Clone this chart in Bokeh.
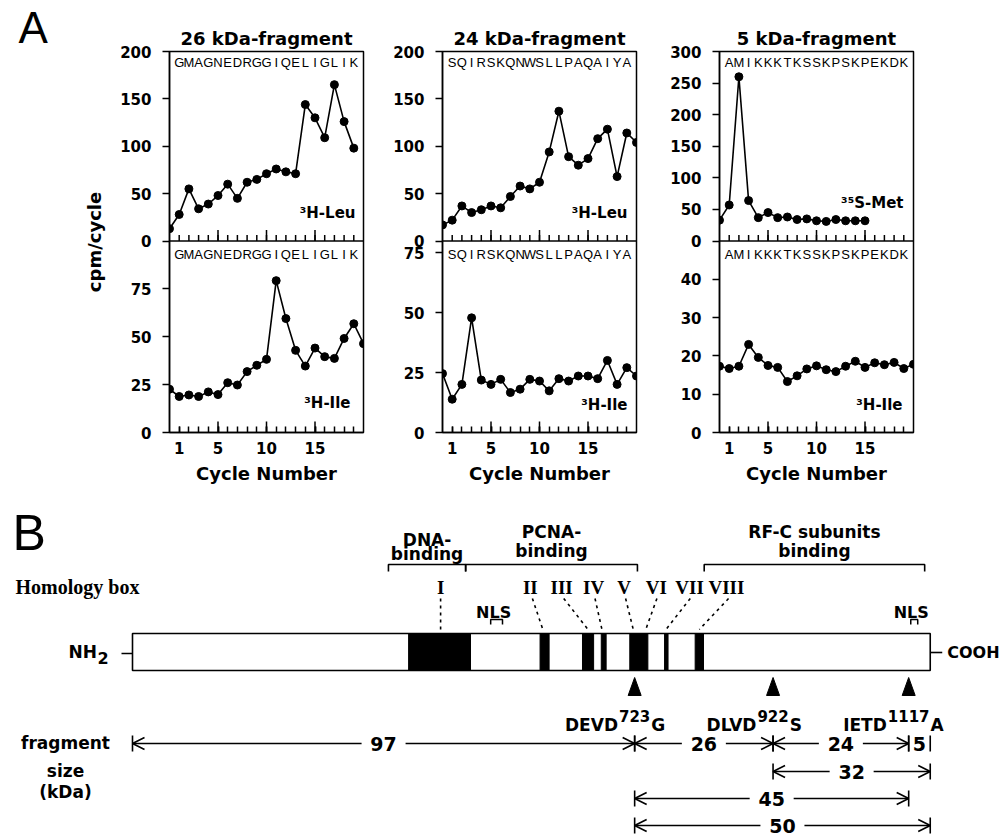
import math
from bokeh.plotting import figure
from bokeh.models import (Range1d, LinearAxis, FixedTicker, ColumnDataSource, Arrow, OpenHead,
                          Span)
from bokeh.layouts import row, column
from bokeh.core.properties import value
from bokeh.embed import file_html
from bokeh.resources import INLINE

# ---------------- Panel A data ----------------
panel_titles = ["26 kDa-fragment", "24 kDa-fragment", "5 kDa-fragment"]
sequences = ["GMAGNEDRGGIQELIGLIK", "SQIRSKQNWSLLPAQAIYA", "AMIKKKTKSSKPSKPEKDK"]
top_labels = ["³H-Leu", "³H-Leu", "³⁵S-Met"]
bottom_labels = ["³H-Ile", "³H-Ile", "³H-Ile"]

leu_26 = [13, 28, 55, 34, 39, 48, 60, 45, 62, 65, 71, 76, 73, 71, 144, 130, 109, 165, 126, 98]
ile_26 = [22.6, 18.8, 19.6, 18.8, 21.2, 19.8, 26.0, 24.8, 31.8, 35.1, 38.2, 79.3, 59.5,
          42.9, 34.7, 44.1, 39.6, 38.7, 49.1, 56.8, 46.4]
leu_24 = [17, 22, 37, 30, 33, 37, 35, 47, 58, 55, 62, 94, 137, 89, 80, 87, 108, 118, 68, 114, 104]
ile_24 = [24.6, 13.9, 20.1, 47.9, 21.9, 20.1, 22.2, 16.7, 18.1, 22.2, 21.5, 17.4, 22.5,
          21.5, 23.6, 23.6, 22.5, 30.1, 20.1, 27.1, 23.6]
met_5 = [33, 57, 260, 64, 37, 45, 37, 38, 34, 35, 32, 31, 34, 32, 32, 32]
ile_5 = [17.3, 16.7, 17.3, 23.0, 19.6, 17.5, 17.0, 13.3, 14.8, 16.6, 17.4, 16.4, 15.9,
         17.3, 18.6, 17.0, 18.2, 17.7, 18.3, 16.7, 17.8]

top_series = [leu_26, leu_24, met_5]
bottom_series = [ile_26, ile_24, ile_5]
top_y_ticks = [[0, 50, 100, 150, 200], [0, 50, 100, 150, 200], [0, 50, 100, 150, 200, 250, 300]]
bottom_y_ticks = [[0, 25, 50, 75], [0, 25, 50, 75], [0, 10, 20, 30, 40]]
top_y_max = [200, 200, 300]
bottom_y_max = [100, 80, 50]
cycle_labels = [1, 5, 10, 15]
cycle_major = [5, 10, 15]
cycle_minor = list(range(1, 20))
cycle_max = 20

# ---------------- Panel B data ----------------
protein_length = 1148
homology_names = ["I", "II", "III", "IV", "V", "VI", "VII", "VIII"]
homology_label_aa = [444, 573, 618, 664, 708, 754, 802, 855]
homology_line_top_aa = [444, 576, 621, 666, 710, 755, 803, 858]
homology_line_bottom_aa = [444, 591, 656, 676, 721, 739, 768, 816]
box_start = [398, 587, 648, 675, 716, 766, 810]
box_end = [487, 600, 664, 682, 742, 771, 822]
domain_start = [369, 480, 823]
domain_end = [480, 727, 1140]
domain_line1 = ["DNA-", "PCNA-", "RF-C subunits"]
domain_line2 = ["binding", "binding", "binding"]
nls_start = [516, 1120]
nls_end = [533, 1130]
cleave_site = [723, 922, 1117]
cleave_pre = ["DEVD", "DLVD", "IETD"]
cleave_num = ["723", "922", "1117"]
cleave_post = ["G", "S", "A"]
frag_start = [1, 723, 922, 1117, 922, 723, 723]
frag_end = [723, 922, 1117, 1148, 1148, 1117, 1148]
frag_kda = ["97", "26", "24", "5", "32", "45", "50"]
frag_row = [0, 0, 0, 0, 1, 2, 3]

# ---------------- layout constants ----------------
FRAME_W = 194
TOP_H = 190
BOT_H = 192
FRAME_H = TOP_H + BOT_H
FIG_H = 490
B_TOP = 50
B_BOT = FIG_H - B_TOP - FRAME_H
STRIP_W = 60
col_specs = [(312, 109, 9), (283, 70, 19), (351, 64, 93)]
title_offset = [-6, 0, 0]
top_lab_gap = [8, 9, 10]
top_lab_rise = [28, 28, 38]
bot_lab_gap = [13, 9, 11]
bot_lab_rise = [30, 28, 28]

BOLD = value("DejaVu Sans")


def style_axis(ax):
    ax.axis_line_width = 1.5
    ax.axis_line_color = "black"
    ax.major_tick_line_width = 1.5
    ax.minor_tick_line_width = 1.5
    ax.major_tick_line_color = "black"
    ax.minor_tick_line_color = "black"
    ax.major_label_text_font = "DejaVu Sans"
    ax.major_label_text_font_style = "bold"
    ax.major_label_text_font_size = "15px"
    ax.major_label_text_color = "black"
    ax.axis_label_text_font = "DejaVu Sans"
    ax.axis_label_text_font_style = "bold"
    ax.axis_label_text_font_size = "18px"
    ax.axis_label_text_color = "black"


def make_panel(i):
    width, bl, br = col_specs[i]
    tmax, bmax = top_y_max[i], bottom_y_max[i]
    px_t = TOP_H / tmax
    px_b = BOT_H / bmax
    pxc = FRAME_W / cycle_max
    p = figure(width=width, height=FIG_H, output_backend="svg", toolbar_location=None,
               x_range=Range1d(0, cycle_max),
               y_range=Range1d(0, FRAME_H / px_b + 1e-6),
               x_axis_location=None, y_axis_location=None,
               min_border_left=bl, min_border_right=br,
               min_border_top=B_TOP, min_border_bottom=B_BOT,
               title=panel_titles[i])
    p.grid.visible = False
    p.extra_y_ranges = {"top": Range1d(-BOT_H / px_t, tmax + 1e-6)}
    p.outline_line_color = "black"
    p.outline_line_width = 1.5
    p.title.align = "center"
    p.title.offset = title_offset[i]
    p.title.text_font = "DejaVu Sans"
    p.title.text_font_style = "bold"
    p.title.text_font_size = "18px"
    p.title.text_color = "black"
    p.title.standoff = 6

    # cycle axis (bottom panel)
    ax = LinearAxis(ticker=FixedTicker(ticks=cycle_labels, minor_ticks=cycle_minor),
                    axis_label="Cycle Number")
    style_axis(ax)
    ax.major_tick_in = 6
    ax.major_tick_out = 0
    ax.minor_tick_in = 6
    ax.minor_tick_out = 0
    ax.major_label_standoff = 9
    ax.axis_label_standoff = 6
    p.add_layout(ax, "below")

    # shared y axis: bottom-panel ticks plus top-panel ticks mapped onto the same frame
    top_pos = [bmax + v * px_t / px_b for v in top_y_ticks[i]]
    overrides = {pos: str(v) for pos, v in zip(top_pos, top_y_ticks[i])}
    ay = LinearAxis(ticker=FixedTicker(ticks=bottom_y_ticks[i] + top_pos, minor_ticks=[]),
                    major_label_overrides=overrides)
    style_axis(ay)
    ay.major_tick_in = 0
    ay.major_tick_out = 7
    ay.major_label_standoff = 11
    if i == 0:
        ay.axis_label = "cpm/cycle"
        ay.axis_label_standoff = 12
    p.add_layout(ay, "left")

    # divider between top and bottom panels with inward ticks
    p.add_layout(Span(location=bmax, dimension="width", line_color="black", line_width=1.5))
    p.segment(x0=cycle_minor, y0=[0] * len(cycle_minor), x1=cycle_minor,
              y1=[6 / px_t] * len(cycle_minor), y_range_name="top", line_color="black",
              line_width=1.5)
    p.segment(x0=cycle_major, y0=[0] * 3, x1=cycle_major, y1=[11 / px_t] * 3,
              y_range_name="top", line_color="black", line_width=1.5)
    p.segment(x0=cycle_major, y0=[0] * 3, x1=cycle_major, y1=[11 / px_b] * 3,
              line_color="black", line_width=1.5)

    # data
    ts = top_series[i]
    bs = bottom_series[i]
    src_t = ColumnDataSource(dict(x=list(range(len(ts))), y=ts))
    src_b = ColumnDataSource(dict(x=list(range(len(bs))), y=bs))
    p.line("x", "y", source=src_t, y_range_name="top", line_color="black", line_width=1.6)
    p.scatter("x", "y", source=src_t, y_range_name="top", size=8, color="black")
    p.line("x", "y", source=src_b, line_color="black", line_width=1.6)
    p.scatter("x", "y", source=src_b, size=8, color="black")

    # sequences
    seq = list(sequences[i])
    xs = list(range(1, len(seq) + 1))
    p.text(x=xs, y=[tmax - 11.5 / px_t] * len(seq), text=seq,
           y_range_name="top", text_align="center", text_baseline="middle",
           text_font=value("Liberation Sans"), text_font_size="13px", text_color="black")
    p.text(x=xs, y=[bmax - 13.5 / px_b] * len(seq), text=seq,
           text_align="center", text_baseline="middle",
           text_font=value("Liberation Sans"), text_font_size="13px", text_color="black")
    # isotope labels
    p.text(x=[cycle_max - top_lab_gap[i] / pxc], y=[top_lab_rise[i] / px_t], text=[top_labels[i]],
           y_range_name="top", text_align="right", text_baseline="middle",
           text_font=BOLD, text_font_style="bold", text_font_size="15px", text_color="black")
    p.text(x=[cycle_max - bot_lab_gap[i] / pxc], y=[bot_lab_rise[i] / px_b], text=[bottom_labels[i]],
           text_align="right", text_baseline="middle",
           text_font=BOLD, text_font_style="bold", text_font_size="15px", text_color="black")
    return p


# narrow strip carrying the panel letter "A" as its title
strip = figure(width=STRIP_W, height=FIG_H, output_backend="svg", toolbar_location=None,
               x_range=Range1d(0, 1), y_range=Range1d(0, 1),
               x_axis_location=None, y_axis_location=None,
               min_border_left=0, min_border_right=0, min_border_top=B_TOP,
               min_border_bottom=B_BOT, outline_line_color=None, title="A")
strip.grid.visible = False
strip.title.align = "left"
strip.title.offset = 18
strip.title.standoff = 0
strip.title.text_font = "Liberation Sans"
strip.title.text_font_style = "normal"
strip.title.text_font_size = "44px"
strip.title.text_color = "black"

panels = [make_panel(i) for i in range(3)]

# ---------------- Panel B ----------------
B_Y0, B_Y1 = 490, 835
BAR_X0_PX = 132
PX_PER_AA = 0.6955


def aa_at(px):
    return 1 + (px - BAR_X0_PX) / PX_PER_AA


def aa_len(px):
    return px / PX_PER_AA


pB = figure(width=1006, height=B_Y1 - B_Y0, output_backend="svg", toolbar_location=None,
            x_range=Range1d(aa_at(0), aa_at(1006)), y_range=Range1d(B_Y1, B_Y0),
            x_axis_location=None, y_axis_location=None, min_border=0, outline_line_color=None)
pB.grid.visible = False


def btext(x, y, t, size, align="center", font="DejaVu Sans", bold=True):
    pB.text(x=x, y=y, text=t, text_align=align, text_baseline="middle",
            text_font=value(font), text_font_style="bold" if bold else "normal",
            text_font_size=size, text_color="black")


btext([aa_at(12)], [532.5], ["B"], "50px", align="left", font="Liberation Sans", bold=False)

# domains
for s, e in zip(domain_start, domain_end):
    pB.line(x=[s, s, e, e], y=[571, 564, 564, 571], line_color="black", line_width=1.6)
dom_mid = [(s + e) / 2 for s, e in zip(domain_start, domain_end)]
btext(dom_mid, [539, 531, 531], domain_line1, "17px")
btext(dom_mid, [553, 550, 550], domain_line2, "17px")

btext([aa_at(15)], [586], ["Homology box"], "20px", align="left", font="Liberation Serif")
btext(homology_label_aa, [586.5] * len(homology_names), homology_names, "19px", font="Liberation Serif")
pB.segment(x0=homology_line_top_aa, y0=[598] * 8, x1=homology_line_bottom_aa, y1=[629] * 8,
           line_color="black", line_width=1.6, line_dash="3 4")

# NLS
nls_mid = [(s + e) / 2 for s, e in zip(nls_start, nls_end)]
btext([m - aa_len(3) for m in nls_mid], [611.5, 611.5], ["NLS", "NLS"], "16px")
for s, e in zip(nls_start, nls_end):
    pB.line(x=[s, s, e, e], y=[624, 619, 619, 624], line_color="black", line_width=1.5)

# protein bar with homology boxes
pB.quad(left=[1], right=[protein_length], top=[633], bottom=[670], fill_color="white",
        line_color="black", line_width=1.6)
pB.quad(left=box_start, right=box_end, top=[633] * len(box_start), bottom=[670] * len(box_start),
        fill_color="black", line_color="black", line_width=1)
pB.segment(x0=[1 - aa_len(11), protein_length], y0=[653, 652],
           x1=[1, protein_length + aa_len(12)], y1=[653, 652], line_color="black", line_width=1.6)
btext([aa_at(68)], [651], ["NH"], "17px", align="left")
btext([aa_at(97)], [657.5], ["2"], "16px", align="left")
btext([protein_length + aa_len(17)], [652], ["COOH"], "16px", align="left")

# cleavage sites
tri_w = aa_len(6.5)
pB.patches(xs=[[c - tri_w, c, c + tri_w] for c in cleave_site],
           ys=[[695, 677, 695] for _ in cleave_site], fill_color="black", line_color="black")
for c, pre, num, post in zip(cleave_site, cleave_pre, cleave_num, cleave_post):
    hw = aa_len(len(num) * 0.696 * 15 / 2)
    btext([c - hw - aa_len(1)], [724], [pre], "17px", align="right")
    btext([c], [715], [num], "15px", align="center")
    btext([c + hw + aa_len(1)], [724], [post], "17px", align="left")

# fragment sizes
row_y = [743, 771, 798, 825]
btext([aa_at(65)] * 3, [742, 770, 791], ["fragment", "size", "(kDa)"], "17px")
gap = aa_len(22)
bars_x, bars_y0, bars_y1 = [], [], []
arr = dict(x0=[], y0=[], x1=[], y1=[])
for s, e, k, r in zip(frag_start, frag_end, frag_kda, frag_row):
    y = row_y[r]
    mid = (s + e) / 2
    for xb in (s, e):
        bars_x.append(xb)
        bars_y0.append(y - 8)
        bars_y1.append(y + 8)
    if (e - s) * PX_PER_AA > 60:
        arr["x0"] += [mid - gap, mid + gap]
        arr["x1"] += [s, e]
        arr["y0"] += [y, y]
        arr["y1"] += [y, y]
    btext([mid], [y], [k], "19px")
pB.segment(x0=bars_x, y0=bars_y0, x1=bars_x, y1=bars_y1, line_color="black", line_width=1.6)
pB.add_layout(Arrow(end=OpenHead(size=12, line_width=1.6, line_color="black"),
                    x_start="x0", y_start="y0", x_end="x1", y_end="y1",
                    line_width=1.6, line_color="black", source=ColumnDataSource(arr)))

layout = column(row(strip, *panels), pB)
open("out.html", "w").write(file_html(layout, INLINE))
